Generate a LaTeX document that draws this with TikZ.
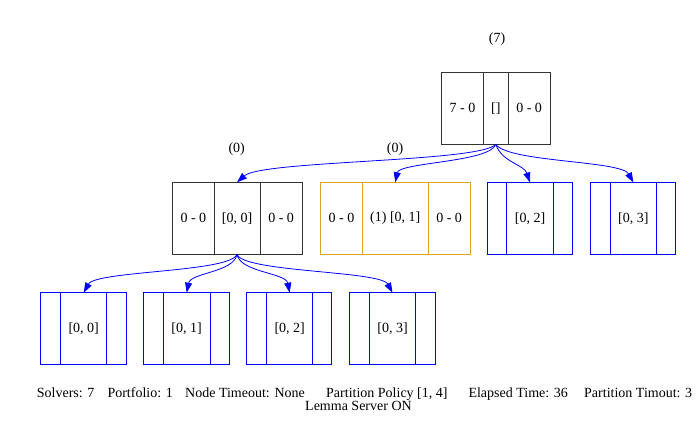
\documentclass[tikz,border=0pt]{standalone}
\usepackage{fontspec}
\setmainfont{Liberation Serif}
\usepackage{tikz}
\usetikzlibrary{positioning,arrows.meta}
\definecolor{goldrod}{RGB}{218,165,32}

\begin{document}
\begin{tikzpicture}[x=1pt,y=-1pt,
    rec/.style={draw, line width=0.8pt, inner sep=0pt, outer sep=0pt, minimum height=72pt, font=\fontsize{14}{16}\selectfont},
    blk/.style={rec, draw=black!80},
    org/.style={rec, draw=goldrod},
    blu/.style={rec, draw=blue},
    lbl/.style={inner sep=0pt, font=\fontsize{14}{16}\selectfont},
    edge/.style={blue, line width=0.8pt, -{Triangle[length=10pt,width=7pt]}}]
  \useasboundingbox (0,0) rectangle (699,447);

  % ROOT
  \node[blk, minimum width=41.6pt, anchor=north west] (r1) at (441.7,72.3) {7 - 0};
  \node[blk, minimum width=25pt, right=0pt of r1] (r2) {[]};
  \node[blk, minimum width=41.7pt, right=0pt of r2] (r3) {0 - 0};
  \node[lbl] (lr) at (497,39) {(7)};

  % NIVEAU 1
  \node[blk, minimum width=41.3pt, anchor=north west] (a1) at (172.7,182.3) {0 - 0};
  \node[blk, minimum width=46pt, right=0pt of a1] (a2) {[0, 0]};
  \node[blk, minimum width=42.3pt, right=0pt of a2] (a3) {0 - 0};
  \node[lbl] (la) at (236.7,149) {(0)};

  \node[org, minimum width=41.6pt, anchor=north west] (b1) at (320.7,182.3) {0 - 0};
  \node[org, minimum width=66pt, right=0pt of b1] (b2) {(1) [0, 1]};
  \node[org, minimum width=41.7pt, right=0pt of b2] (b3) {0 - 0};
  \node[lbl] (lb) at (395,149) {(0)};

  \node[blu, minimum width=19.4pt, anchor=north west] (c1) at (487.3,182.5) {};
  \node[blu, minimum width=46.6pt, right=0pt of c1] (c2) {[0, 2]};
  \node[blu, minimum width=19.4pt, right=0pt of c2] (c3) {};

  \node[blu, minimum width=19.3pt, anchor=north west] (d1) at (590.7,182.5) {};
  \node[blu, minimum width=46.7pt, right=0pt of d1] (d2) {[0, 3]};
  \node[blu, minimum width=19pt, right=0pt of d2] (d3) {};

  % NIVEAU 2
  \node[blu, minimum width=20pt, anchor=north west] (e1) at (40.7,292.7) {};
  \node[blu, minimum width=46pt, right=0pt of e1] (e2) {[0, 0]};
  \node[blu, minimum width=19.3pt, right=0pt of e2] (e3) {};

  \node[blu, minimum width=20pt, anchor=north west] (f1) at (143.3,292.7) {};
  \node[blu, minimum width=46.7pt, right=0pt of f1] (f2) {[0, 1]};
  \node[blu, minimum width=19pt, right=0pt of f2] (f3) {};

  \node[blu, minimum width=20pt, anchor=north west] (g1) at (246.7,292.7) {};
  \node[blu, minimum width=46pt, right=0pt of g1] (g2) {[0, 2]};
  \node[blu, minimum width=19pt, right=0pt of g2] (g3) {};

  \node[blu, minimum width=20pt, anchor=north west] (h1) at (349.3,292.7) {};
  \node[blu, minimum width=46.4pt, right=0pt of h1] (h2) {[0, 3]};
  \node[blu, minimum width=19.3pt, right=0pt of h2] (h3) {};

  % ARETES
  \draw[edge] (r2.south) .. controls +(-16,18) and +(25,-22) .. (a2.north);
  \draw[edge] (r2.south) .. controls +(-6,18) and +(4,-20) .. (b2.north);
  \draw[edge] (r2.south) .. controls +(6,18) and +(-6,-18) .. (c2.north);
  \draw[edge] (r2.south) .. controls +(12,18) and +(-12,-22) .. (d2.north);

  \draw[edge] (a2.south) .. controls +(-6,18) and +(12,-22) .. (e2.north);
  \draw[edge] (a2.south) .. controls +(-3,18) and +(4,-20) .. (f2.north);
  \draw[edge] (a2.south) .. controls +(3,18) and +(-4,-20) .. (g2.north);
  \draw[edge] (a2.south) .. controls +(6,18) and +(-12,-22) .. (h2.north);

  % LEGENDE
  \node[lbl, anchor=base west] (s1) at (36.7,397) {Solvers: 7};
  \node[lbl, anchor=base west] (s2) at (107.3,397) {Portfolio: 1};
  \node[lbl, anchor=base west] (s3) at (185,397) {Node Timeout: None};
  \node[lbl, anchor=base west] (s4) at (326,397) {Partition Policy [1, 4]};
  \node[lbl, anchor=base west] (s5) at (468.3,397) {Elapsed Time: 36};
  \node[lbl, anchor=base west] (s6) at (584,397) {Partition Timout: 3};
  \node[lbl, anchor=base west] (s7) at (305,410) {Lemma Server ON};
\end{tikzpicture}
\end{document}
